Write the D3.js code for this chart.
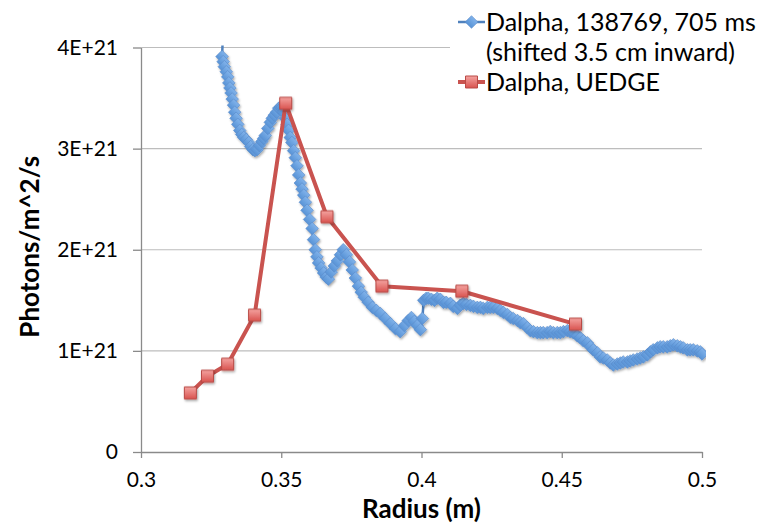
<!DOCTYPE html>
<html>
<head>
<meta charset="utf-8">
<script src="https://cdnjs.cloudflare.com/ajax/libs/d3/7.8.5/d3.min.js"></script>
<style>
  body { margin: 0; background: #fff; }
  text { font-family: Lato, "Open Sans", sans-serif; fill: #000; }
</style>
</head>
<body>
<script>
// measured profile, shot 138769 @ 705 ms (photons in units of 1E21)
const measRadius = [
  0.3291, 0.3289, 0.3293, 0.3297, 0.3304, 0.3309, 0.3313, 0.3317, 0.3321, 0.3325,
  0.3330, 0.3334, 0.3339, 0.3345, 0.3352, 0.3359, 0.3366, 0.3375, 0.3384, 0.3391,
  0.3399, 0.3406, 0.3414, 0.3422, 0.3431, 0.3437, 0.3443, 0.3452, 0.3461, 0.3468,
  0.3475, 0.3483, 0.3491, 0.3497, 0.3503, 0.3508, 0.3514, 0.3521, 0.3526, 0.3532,
  0.3538, 0.3544, 0.3550, 0.3556, 0.3562, 0.3568, 0.3574, 0.3580, 0.3586, 0.3592,
  0.3601, 0.3610, 0.3615, 0.3621, 0.3627, 0.3633, 0.3642, 0.3651, 0.3660, 0.3668,
  0.3678, 0.3689, 0.3700, 0.3711, 0.3721, 0.3732, 0.3743, 0.3753, 0.3764, 0.3775,
  0.3785, 0.3796, 0.3810, 0.3825, 0.3839, 0.3853, 0.3871, 0.3889, 0.3907, 0.3924,
  0.3939, 0.3953, 0.3964, 0.3974, 0.3985, 0.3996, 0.4003, 0.4008, 0.4017, 0.4024,
  0.4035, 0.4046, 0.4056, 0.4067, 0.4078, 0.4088, 0.4103, 0.4113, 0.4128, 0.4138,
  0.4149, 0.4160, 0.4174, 0.4185, 0.4199, 0.4210, 0.4220, 0.4235, 0.4245, 0.4256,
  0.4270, 0.4281, 0.4292, 0.4306, 0.4317, 0.4327, 0.4342, 0.4352, 0.4363, 0.4377,
  0.4388, 0.4399, 0.4413, 0.4424, 0.4434, 0.4448, 0.4459, 0.4470, 0.4484, 0.4495,
  0.4506, 0.4520, 0.4530, 0.4541, 0.4555, 0.4566, 0.4577, 0.4591, 0.4602, 0.4612,
  0.4627, 0.4637, 0.4648, 0.4662, 0.4673, 0.4684, 0.4698, 0.4709, 0.4719, 0.4734,
  0.4744, 0.4755, 0.4769, 0.4780, 0.4791, 0.4805, 0.4816, 0.4826, 0.4841, 0.4851,
  0.4862, 0.4876, 0.4887, 0.4898, 0.4912, 0.4923, 0.4933, 0.4948, 0.4958, 0.4969,
  0.4983, 0.4994, 0.5000
];
const measPhotons = [
  4.05, 3.91, 3.86, 3.81, 3.76, 3.71, 3.65, 3.60, 3.55, 3.49,
  3.43, 3.36, 3.30, 3.24, 3.18, 3.14, 3.11, 3.09, 3.06, 3.02,
  2.99, 2.98, 2.99, 3.03, 3.07, 3.10, 3.13, 3.20, 3.26, 3.30,
  3.33, 3.36, 3.40, 3.41, 3.41, 3.36, 3.30, 3.24, 3.18, 3.11,
  3.06, 2.98, 2.91, 2.83, 2.74, 2.66, 2.60, 2.54, 2.47, 2.39,
  2.30, 2.21, 2.10, 2.00, 1.93, 1.87, 1.82, 1.77, 1.73, 1.71,
  1.78, 1.84, 1.89, 1.95, 2.00, 1.95, 1.88, 1.80, 1.72, 1.64,
  1.58, 1.53, 1.48, 1.43, 1.40, 1.37, 1.32, 1.27, 1.22, 1.19,
  1.25, 1.30, 1.33, 1.29, 1.25, 1.21, 1.32, 1.50, 1.52, 1.52,
  1.51, 1.50, 1.52, 1.51, 1.48, 1.48, 1.47, 1.44, 1.42, 1.45,
  1.47, 1.46, 1.45, 1.44, 1.43, 1.43, 1.42, 1.43, 1.43, 1.43,
  1.42, 1.40, 1.38, 1.36, 1.33, 1.32, 1.30, 1.28, 1.27, 1.23,
  1.20, 1.19, 1.18, 1.18, 1.18, 1.18, 1.19, 1.18, 1.18, 1.18,
  1.19, 1.20, 1.19, 1.18, 1.15, 1.13, 1.10, 1.08, 1.04, 1.01,
  0.98, 0.94, 0.93, 0.91, 0.88, 0.86, 0.87, 0.88, 0.89, 0.89,
  0.90, 0.91, 0.92, 0.93, 0.94, 0.96, 0.99, 1.01, 1.03, 1.04,
  1.04, 1.04, 1.05, 1.06, 1.05, 1.04, 1.03, 1.01, 1.01, 1.01,
  1.00, 0.99, 0.97
];

// UEDGE simulation
const uedgeRadius  = [0.3176, 0.3237, 0.3309, 0.3405, 0.3516, 0.3663, 0.3859, 0.4144, 0.4549];
const uedgePhotons = [0.584, 0.749, 0.868, 1.353, 3.448, 2.326, 1.640, 1.590, 1.264];

const xTicks = [0.3, 0.35, 0.4, 0.45, 0.5];
const yTicks = [0, 1, 2, 3, 4];
const yTickLabels = ['0', '1E+21', '2E+21', '3E+21', '4E+21'];
const legendLines = ['Dalpha, 138769, 705 ms', '(shifted 3.5 cm inward)', 'Dalpha, UEDGE'];

const width = 765, height = 525;
const margin = {left: 141, right: 63, top: 47.5, bottom: 73};
const w = width - margin.left - margin.right;
const h = height - margin.top - margin.bottom;

const svg = d3.select('body').append('svg')
  .attr('width', width)
  .attr('height', height);

const defs = svg.append('defs');
const blueGrad = defs.append('linearGradient').attr('id', 'blueGrad')
  .attr('x1', 0).attr('y1', 0).attr('x2', 0).attr('y2', 1);
blueGrad.append('stop').attr('offset', '0%').attr('stop-color', '#80b2ea');
blueGrad.append('stop').attr('offset', '100%').attr('stop-color', '#5893d6');
const redGrad = defs.append('linearGradient').attr('id', 'redGrad')
  .attr('x1', 0).attr('y1', 0).attr('x2', 0).attr('y2', 1);
redGrad.append('stop').attr('offset', '0%').attr('stop-color', '#f4a3a0');
redGrad.append('stop').attr('offset', '100%').attr('stop-color', '#d9534f');
defs.append('filter').attr('id', 'shadow')
  .attr('x', '-50%').attr('y', '-50%').attr('width', '200%').attr('height', '200%')
  .append('feDropShadow')
  .attr('dx', 1).attr('dy', 1.5).attr('stdDeviation', 1)
  .attr('flood-color', '#000').attr('flood-opacity', 0.35);
defs.append('clipPath').attr('id', 'plotClip')
  .append('rect').attr('x', 0).attr('y', -2).attr('width', w + 4).attr('height', h + 2);

const g = svg.append('g').attr('transform', `translate(${margin.left},${margin.top})`);

const x = d3.scaleLinear().domain([0.3, 0.5]).range([0, w]);
const y = d3.scaleLinear().domain([0, 4]).range([h, 0]);

// gridlines
g.append('g').selectAll('line')
  .data(yTicks.slice(1))
  .enter().append('line')
    .attr('x1', 0).attr('x2', w)
    .attr('y1', d => y(d)).attr('y2', d => y(d))
    .attr('stroke', '#bdbdbd').attr('stroke-width', 1.2);

const xAxis = g.append('g')
  .attr('transform', `translate(0,${h})`)
  .call(d3.axisBottom(x).tickValues(xTicks).tickFormat(d => String(d))
    .tickSize(6).tickSizeOuter(0).tickPadding(14));
const yAxis = g.append('g')
  .call(d3.axisLeft(y).tickValues(yTicks).tickFormat((d, i) => yTickLabels[i])
    .tickSize(8).tickSizeOuter(0).tickPadding(15));

[xAxis, yAxis].forEach(a => {
  a.select('.domain').attr('stroke', '#8a8a8a').attr('stroke-width', 1.3);
  a.selectAll('.tick line').attr('stroke', '#8a8a8a').attr('stroke-width', 1.3);
  a.selectAll('.tick text').style('font-size', '21px').attr('fill', '#000');
});

const meas = measRadius.map((r, i) => ({r, p: measPhotons[i]}));
const uedge = uedgeRadius.map((r, i) => ({r, p: uedgePhotons[i]}));

const line = d3.line().x(d => x(d.r)).y(d => y(d.p));
const plot = g.append('g').attr('clip-path', 'url(#plotClip)');

plot.append('path')
  .datum(meas)
  .attr('d', line)
  .attr('fill', 'none')
  .attr('stroke', '#4f81bd')
  .attr('stroke-width', 2.5);

const diamond = d3.symbol().type(d3.symbolSquare).size(80);
plot.append('g').attr('filter', 'url(#shadow)')
  .selectAll('path')
  .data(meas.filter(d => d.p <= 4))
  .enter().append('path')
    .attr('d', diamond)
    .attr('transform', d => `translate(${x(d.r)},${y(d.p)}) rotate(45)`)
    .attr('fill', 'url(#blueGrad)')
    .attr('stroke', '#5a8ccb')
    .attr('stroke-width', 0.6);

plot.append('path')
  .datum(uedge)
  .attr('d', line)
  .attr('fill', 'none')
  .attr('stroke', '#c9534f')
  .attr('stroke-width', 4)
  .attr('stroke-linejoin', 'round');

const square = d3.symbol().type(d3.symbolSquare).size(144);
plot.append('g').attr('filter', 'url(#shadow)')
  .selectAll('path')
  .data(uedge)
  .enter().append('path')
    .attr('d', square)
    .attr('transform', d => `translate(${x(d.r)},${y(d.p)})`)
    .attr('fill', 'url(#redGrad)')
    .attr('stroke', '#b94a46')
    .attr('stroke-width', 1);

// axis titles
svg.append('text')
  .attr('x', margin.left + w / 2).attr('y', 518)
  .attr('text-anchor', 'middle')
  .style('font-size', '26px').style('font-weight', 'bold')
  .text('Radius (m)');

svg.append('text')
  .attr('transform', `translate(39,${margin.top + h / 2 - 3}) rotate(-90)`)
  .attr('text-anchor', 'middle')
  .style('font-size', '26px').style('font-weight', 'bold')
  .text('Photons/m^2/s');

// legend
const legend = svg.append('g');
legend.append('rect')
  .attr('x', 450).attr('y', 0).attr('width', 315).attr('height', 100)
  .attr('fill', '#fff');

const lx = 458, lw = 27, tx = 486;
legend.append('line')
  .attr('x1', lx).attr('x2', lx + lw).attr('y1', 22).attr('y2', 22)
  .attr('stroke', '#4f81bd').attr('stroke-width', 2.5);
legend.append('path')
  .attr('d', diamond)
  .attr('transform', `translate(${lx + lw / 2},22) rotate(45)`)
  .attr('fill', 'url(#blueGrad)').attr('stroke', '#5a8ccb').attr('stroke-width', 0.6);
legend.append('line')
  .attr('x1', lx).attr('x2', lx + lw).attr('y1', 82).attr('y2', 82)
  .attr('stroke', '#c9534f').attr('stroke-width', 4);
legend.append('path')
  .attr('d', square)
  .attr('transform', `translate(${lx + lw / 2},82)`)
  .attr('fill', 'url(#redGrad)').attr('stroke', '#b94a46').attr('stroke-width', 1);

legend.selectAll('text.leg')
  .data(legendLines)
  .enter().append('text')
    .attr('class', 'leg')
    .attr('x', tx)
    .attr('y', (d, i) => 22 + i * 30)
    .attr('dy', '0.35em')
    .style('font-size', '25px')
    .text(d => d);
</script>
</body>
</html>
